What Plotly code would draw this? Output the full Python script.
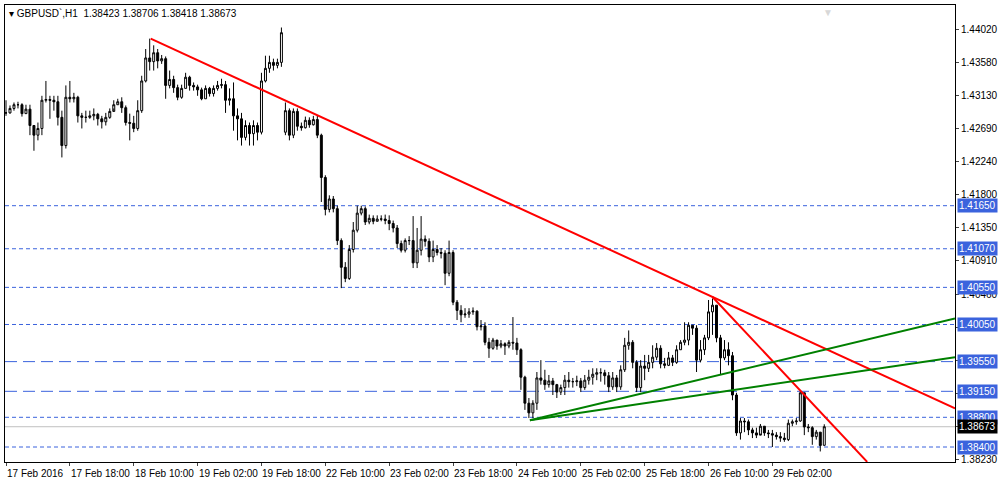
import plotly.graph_objects as go

# GBPUSD H1 candles, 17 Feb 2016 .. 29 Feb 2016
closes = [
    1.4290, 1.4296, 1.4301, 1.4301, 1.4289, 1.4295, 1.4273, 1.4260, 1.4269, 1.4307,
    1.4308, 1.4307, 1.4305, 1.4284, 1.4246, 1.4311, 1.4309, 1.4311, 1.4286, 1.4284,
    1.4284, 1.4286, 1.4288, 1.4282, 1.4278, 1.4284, 1.4292, 1.4301, 1.4305, 1.4297,
    1.4277, 1.4276, 1.4269, 1.4293, 1.4333, 1.4364, 1.4359, 1.4371, 1.4360, 1.4363,
    1.4327, 1.4335, 1.4324, 1.4311, 1.4323, 1.4338, 1.4327, 1.4325, 1.4321, 1.4309,
    1.4323, 1.4316, 1.4323, 1.4327, 1.4328, 1.4307, 1.4309, 1.4286, 1.4282, 1.4257,
    1.4273, 1.4262, 1.4273, 1.4264, 1.4333, 1.4350, 1.4358, 1.4354, 1.4358, 1.4398,
    1.4293, 1.4260, 1.4292, 1.4272, 1.4270, 1.4280, 1.4274, 1.4281, 1.4260, 1.4203,
    1.4160, 1.4174, 1.4161, 1.4118, 1.4082, 1.4067, 1.4106, 1.4132, 1.4155, 1.4161,
    1.4143, 1.4148, 1.4144, 1.4147, 1.4147, 1.4145, 1.4141, 1.4135, 1.4114, 1.4105,
    1.4118, 1.4118, 1.4088, 1.4105, 1.4120, 1.4117, 1.4096, 1.4106, 1.4102, 1.4101,
    1.4074, 1.4102, 1.4035, 1.4024, 1.4018, 1.4019, 1.4022, 1.4023, 1.4002, 1.4003,
    1.3981, 1.3973, 1.3984, 1.3976, 1.3979, 1.3976, 1.3981, 1.3980, 1.3971, 1.3934,
    1.3899, 1.3886, 1.3899, 1.3933, 1.3930, 1.3924, 1.3929, 1.3924, 1.3914, 1.3920,
    1.3930, 1.3928, 1.3928, 1.3929, 1.3920, 1.3930, 1.3934, 1.3938, 1.3940, 1.3940,
    1.3936, 1.3921, 1.3933, 1.3921, 1.3944, 1.3977, 1.3981, 1.3954, 1.3920, 1.3949,
    1.3946, 1.3954, 1.3961, 1.3973, 1.3952, 1.3950, 1.3960, 1.3954, 1.3971, 1.3981,
    1.3984, 1.4004, 1.4000, 1.3957, 1.3971, 1.3987, 1.4022, 1.4031, 1.3987, 1.3960,
    1.3971, 1.3963, 1.3910, 1.3859, 1.3875, 1.3874, 1.3863, 1.3859, 1.3856, 1.3868,
    1.3859, 1.3858, 1.3856, 1.3854, 1.3852, 1.3850, 1.3872, 1.3874, 1.3875, 1.3913,
    1.3867, 1.3866, 1.3854, 1.3860, 1.3842, 1.3867,
]
highs = [
    1.4307, 1.4300, 1.4304, 1.4305, 1.4303, 1.4301, 1.4301, 1.4273, 1.4277, 1.4313,
    1.4333, 1.4313, 1.4313, 1.4313, 1.4293, 1.4327, 1.4333, 1.4317, 1.4313, 1.4290,
    1.4293, 1.4293, 1.4296, 1.4290, 1.4286, 1.4290, 1.4296, 1.4307, 1.4309, 1.4311,
    1.4300, 1.4289, 1.4286, 1.4307, 1.4340, 1.4376, 1.4390, 1.4381, 1.4376, 1.4368,
    1.4366, 1.4347, 1.4340, 1.4328, 1.4328, 1.4344, 1.4340, 1.4331, 1.4328, 1.4324,
    1.4327, 1.4325, 1.4327, 1.4333, 1.4336, 1.4333, 1.4323, 1.4331, 1.4296, 1.4290,
    1.4280, 1.4277, 1.4280, 1.4277, 1.4344, 1.4367, 1.4367, 1.4363, 1.4363, 1.4405,
    1.4304, 1.4296, 1.4296, 1.4296, 1.4277, 1.4285, 1.4284, 1.4286, 1.4286, 1.4262,
    1.4206, 1.4179, 1.4178, 1.4165, 1.4121, 1.4089, 1.4112, 1.4143, 1.4165, 1.4165,
    1.4164, 1.4153, 1.4152, 1.4152, 1.4152, 1.4153, 1.4152, 1.4145, 1.4139, 1.4118,
    1.4121, 1.4124, 1.4151, 1.4135, 1.4151, 1.4125, 1.4121, 1.4118, 1.4112, 1.4108,
    1.4105, 1.4118, 1.4105, 1.4038, 1.4031, 1.4027, 1.4027, 1.4028, 1.4024, 1.4011,
    1.4008, 1.3987, 1.3987, 1.3984, 1.3984, 1.3981, 1.3984, 1.4015, 1.3987, 1.3973,
    1.3936, 1.3906, 1.3903, 1.3941, 1.3957, 1.3944, 1.3937, 1.3933, 1.3925, 1.3924,
    1.3937, 1.3941, 1.3933, 1.3936, 1.3933, 1.3937, 1.3944, 1.3946, 1.3946, 1.3946,
    1.3944, 1.3941, 1.3941, 1.3937, 1.3950, 1.3987, 1.3997, 1.3984, 1.3957, 1.3957,
    1.3964, 1.3964, 1.3977, 1.3980, 1.3977, 1.3960, 1.3968, 1.3964, 1.3977, 1.3984,
    1.4008, 1.4008, 1.4004, 1.4004, 1.3984, 1.3991, 1.4038, 1.4040, 1.4031, 1.3991,
    1.3984, 1.3981, 1.3968, 1.3913, 1.3879, 1.3879, 1.3877, 1.3866, 1.3866, 1.3871,
    1.3868, 1.3863, 1.3863, 1.3860, 1.3860, 1.3859, 1.3877, 1.3877, 1.3879, 1.3914,
    1.3910, 1.3871, 1.3868, 1.3863, 1.3860, 1.38706,
]
lows = [
    1.4286, 1.4289, 1.4293, 1.4296, 1.4285, 1.4289, 1.4260, 1.4239, 1.4253, 1.4260,
    1.4304, 1.4282, 1.4293, 1.4273, 1.4230, 1.4242, 1.4304, 1.4304, 1.4277, 1.4269,
    1.4277, 1.4282, 1.4280, 1.4273, 1.4269, 1.4273, 1.4282, 1.4296, 1.4301, 1.4290,
    1.4273, 1.4253, 1.4264, 1.4266, 1.4290, 1.4331, 1.4347, 1.4347, 1.4350, 1.4356,
    1.4309, 1.4323, 1.4317, 1.4307, 1.4309, 1.4323, 1.4320, 1.4320, 1.4313, 1.4307,
    1.4309, 1.4312, 1.4312, 1.4320, 1.4323, 1.4290, 1.4300, 1.4266, 1.4253, 1.4246,
    1.4253, 1.4246, 1.4246, 1.4253, 1.4261, 1.4331, 1.4344, 1.4347, 1.4350, 1.4352,
    1.4260, 1.4253, 1.4256, 1.4266, 1.4266, 1.4269, 1.4270, 1.4273, 1.4256, 1.4170,
    1.4152, 1.4156, 1.4156, 1.4112, 1.4054, 1.4062, 1.4065, 1.4102, 1.4129, 1.4152,
    1.4139, 1.4140, 1.4140, 1.4144, 1.4144, 1.4140, 1.4132, 1.4129, 1.4108, 1.4102,
    1.4102, 1.4112, 1.4081, 1.4081, 1.4098, 1.4110, 1.4089, 1.4089, 1.4098, 1.4094,
    1.4058, 1.4070, 1.4031, 1.4011, 1.4008, 1.4014, 1.4014, 1.4018, 1.3997, 1.3997,
    1.3977, 1.3960, 1.3971, 1.3971, 1.3973, 1.3964, 1.3973, 1.3971, 1.3964, 1.3917,
    1.3890, 1.3879, 1.3879, 1.3890, 1.3924, 1.3917, 1.3920, 1.3910, 1.3906, 1.3910,
    1.3910, 1.3920, 1.3920, 1.3922, 1.3914, 1.3917, 1.3924, 1.3924, 1.3930, 1.3928,
    1.3924, 1.3914, 1.3917, 1.3914, 1.3917, 1.3941, 1.3971, 1.3946, 1.3914, 1.3914,
    1.3930, 1.3941, 1.3946, 1.3957, 1.3946, 1.3946, 1.3949, 1.3949, 1.3952, 1.3971,
    1.3977, 1.3977, 1.3991, 1.3941, 1.3954, 1.3964, 1.3984, 1.3991, 1.3981, 1.3937,
    1.3957, 1.3950, 1.3903, 1.3855, 1.3850, 1.3860, 1.3856, 1.3852, 1.3852, 1.3858,
    1.3855, 1.3852, 1.3840, 1.3850, 1.3847, 1.3847, 1.3848, 1.3868, 1.3870, 1.3874,
    1.3856, 1.3860, 1.3843, 1.3850, 1.3834, 1.38418,
]
opens = [closes[0]] + closes[:-1]
opens[70] = 1.4264      # weekend gap 22 Feb
opens[-1] = 1.38423
closes[-1] = 1.38673

date_labels = ["17 Feb 2016", "17 Feb 18:00", "18 Feb 10:00", "19 Feb 02:00",
               "19 Feb 18:00", "22 Feb 10:00", "23 Feb 02:00", "23 Feb 18:00",
               "24 Feb 10:00", "25 Feb 02:00", "25 Feb 18:00", "26 Feb 10:00",
               "29 Feb 02:00"]
date_pos = [16 * k for k in range(len(date_labels))]

price_ticks = [1.44020, 1.43580, 1.43130, 1.42690, 1.42240, 1.41800, 1.41350,
               1.40910, 1.40460, 1.40010, 1.39570, 1.39120, 1.38680, 1.38230]
dash_levels = [1.41650, 1.41070, 1.40550, 1.40050, 1.38800, 1.38400]
dashdot_levels = [1.39550, 1.39150]
last_price = 1.38673

# hand-drawn trendlines: (bar0, price0, bar1, price1)
red_lines = [(36.25, 1.4390, 237.75, 1.3892), (177, 1.4042, 215.75, 1.3820)]
green_lines = [(131.25, 1.3876, 237.75, 1.4013), (131.25, 1.3876, 237.75, 1.3961)]

blue = "#3b63dd"
txt_font = "Liberation Sans"

fig = go.Figure()
fig.add_trace(go.Candlestick(
    x=list(range(len(closes))), open=opens, high=highs, low=lows, close=closes,
    increasing=dict(line=dict(color="black", width=1), fillcolor="white"),
    decreasing=dict(line=dict(color="black", width=1), fillcolor="black"),
    whiskerwidth=0, hoverinfo="skip", showlegend=False,
))

for lv in dash_levels:
    fig.add_hline(y=lv, line=dict(color=blue, width=1, dash="4px,3px"), layer="below")
for lv in dashdot_levels:
    fig.add_hline(y=lv, line=dict(color=blue, width=1, dash="12px,6px"), layer="below")
fig.add_hline(y=last_price, line=dict(color="#c0c0c0", width=1), layer="below")

for x0, y0, x1, y1 in red_lines:
    fig.add_shape(type="line", x0=x0, y0=y0, x1=x1, y1=y1, line=dict(color="#ff0000", width=2))
for x0, y0, x1, y1 in green_lines:
    fig.add_shape(type="line", x0=x0, y0=y0, x1=x1, y1=y1, line=dict(color="#008000", width=2))

anns = []
for lv in dash_levels + dashdot_levels:
    anns.append(dict(x=1, xref="paper", y=lv, yref="y", xanchor="left", xshift=2,
                     text=f"{lv:.5f}", showarrow=False, bgcolor=blue,
                     font=dict(color="white", size=10, family=txt_font), borderpad=1))
anns.append(dict(x=1, xref="paper", y=last_price, yref="y", xanchor="left", xshift=2,
                 text=f"{last_price:.5f}", showarrow=False, bgcolor="black",
                 font=dict(color="white", size=10, family=txt_font), borderpad=1))
for pos, lab in zip(date_pos, date_labels):
    anns.append(dict(x=pos, xref="x", y=0, yref="paper", yanchor="top", xanchor="left",
                     xshift=-1, yshift=-4, text=lab, showarrow=False,
                     font=dict(color="black", size=10, family=txt_font)))
anns.append(dict(x=0, xref="paper", y=1, yref="paper", xanchor="left", yanchor="top",
                 xshift=2, yshift=-1, showarrow=False,
                 text="▾ GBPUSD`,H1  1.38423 1.38706 1.38418 1.38673",
                 font=dict(color="black", size=10, family=txt_font)))
anns.append(dict(x=206, xref="x", y=1, yref="paper",
                 yanchor="top", showarrow=False, text="▼",
                 font=dict(color="#d8d8d8", size=10)))

fig.update_layout(
    width=1002, height=486,
    margin=dict(l=4, r=45, t=4, b=24),
    paper_bgcolor="white", plot_bgcolor="white",
    font=dict(family=txt_font, size=10, color="black"),
    annotations=anns,
    xaxis=dict(range=[-0.25, 237.75], rangeslider=dict(visible=False),
               showgrid=False, zeroline=False, showline=True, linecolor="black",
               mirror=True, tickvals=date_pos, ticks="outside", ticklen=3,
               showticklabels=False),
    yaxis=dict(range=[1.38198, 1.44353], side="right", showgrid=False,
               zeroline=False, showline=True, linecolor="black", mirror=True,
               tickvals=price_ticks, ticktext=[f"{t:.5f}" for t in price_ticks],
               ticks="outside", ticklen=3, tickfont=dict(size=10, family=txt_font)),
)

fig.write_html("out.html", config={"displayModeBar": False},
               post_script="document.body.style.margin='0';")
